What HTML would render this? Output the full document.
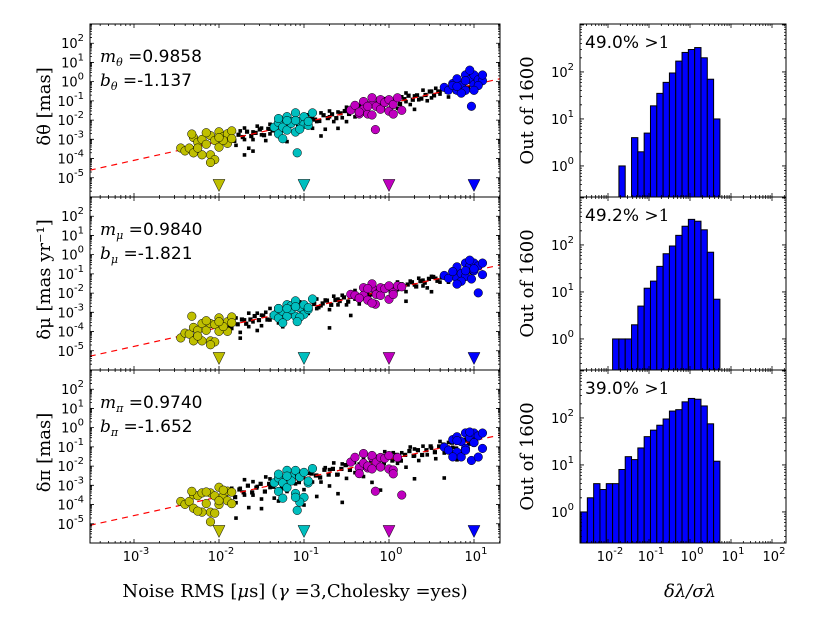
<!DOCTYPE html>
<html><head><meta charset="utf-8"><style>
html,body{margin:0;padding:0;background:#fff;}
svg{display:block;font-family:"DejaVu Sans","Liberation Sans",sans-serif;}
.ser{font-family:"DejaVu Serif","Liberation Serif",serif;}
</style></head><body>
<svg id="fig" width="817" height="617" viewBox="0 0 817 617" xmlns="http://www.w3.org/2000/svg"></svg>
<script>
// ---------- data ----------
const fitM = [0.9858, 0.9840, 0.9740];
const fitB = [-1.137, -1.821, -1.652];
const fitLabels = [["m_θ","0.9858","b_θ","-1.137"],["m_μ","0.9840","b_μ","-1.821"],["m_π","0.9740","b_π","-1.652"]];
const yLabels = ["δθ [mas]","δμ [mas yr⁻¹]","δπ [mas]"];
const noiseLevels = [-2,-1,0,1];
const noiseColors = ["#bfbf00","#00bfbf","#bf00bf","#0000ff"];
const triangleLogY = -5.4;
const xTickLabels = ["-3","-2","-1","0","1"];
const yTickExps = [2,1,0,-1,-2,-3,-4,-5];

// black points: log10 noise and offset (dex) from the fit line
const blackX1 = [-1.85,-1.8,-1.75,-1.7,-1.7,-1.65,-1.6,-1.6,-1.55,-1.5,-1.5,-1.45,-1.4,-1.4,-1.35,-1.3,-1.25,-1.2,-1.2,-1.15,-1.1,-1.05,-1.0,-0.95,-0.9,-0.9,-0.85,-0.8,-0.75,-0.7,-0.7,-0.65,-0.6,-0.55,-0.5,-0.5,-0.45,-0.4,-0.35,-0.3,-0.25,-0.2,-0.15,-0.1,-0.05,0.0,0.05,0.1,0.15,0.2,0.2,0.25,0.3,0.35,0.4,0.45,0.5,0.5,0.55,0.6,0.65,0.7,0.75,0.8,0.85,0.9,-1.6,-1.2,-0.6,0.3,-1.7,-0.8,-1.35,-0.35,0.6,-1.0];
const blackDY1 = [0.2,-0.4,0.3,-0.2,0.4,-0.7,0.1,-0.3,0.35,-0.15,0.2,-0.5,0.3,-0.2,0.05,-0.35,0.3,-0.1,-0.8,0.2,-0.3,0.1,-0.2,0.35,-0.4,0.15,-0.1,0.3,-0.6,0.0,0.3,-0.3,0.15,-0.2,0.3,-0.45,0.05,-0.3,0.25,-0.15,0.1,-0.4,0.2,-0.1,0.3,-0.25,0.1,-0.35,0.2,-0.1,0.35,-0.3,0.1,-0.15,0.3,-0.3,0.15,-0.2,0.25,-0.1,0.2,-0.35,0.1,-0.1,0.2,-0.2,-0.9,0.5,-0.7,-0.6,-1.0,-0.9,0.0,-0.05,0.05,0.1];
const blackX2 = [-1.85,-1.8,-1.75,-1.7,-1.65,-1.65,-1.6,-1.55,-1.5,-1.5,-1.45,-1.4,-1.4,-1.35,-1.3,-1.3,-1.25,-1.2,-1.15,-1.1,-1.1,-1.05,-1.0,-0.95,-0.9,-0.85,-0.85,-0.8,-0.75,-0.7,-0.65,-0.6,-0.6,-0.55,-0.5,-0.45,-0.4,-0.4,-0.35,-0.3,-0.25,-0.2,-0.2,-0.15,-0.1,-0.05,0.0,0.05,0.1,0.1,0.15,0.2,0.25,0.3,0.35,0.4,0.4,0.45,0.5,0.55,0.6,0.65,0.7,0.75,0.8,0.85,0.9,-1.75,-1.25,-0.7,0.2,-0.45,-1.55,0.5,-1.05,-0.25];
const blackDY2 = [-0.2,0.3,-0.5,0.1,0.4,-0.3,-0.1,0.3,-0.4,0.15,0.25,-0.2,0.4,-0.1,0.2,-0.45,0.05,0.3,-0.25,0.15,-0.5,0.3,0.0,-0.3,0.25,-0.15,0.35,-0.05,0.2,-0.35,0.3,-0.2,0.1,0.25,-0.3,0.2,-0.1,0.35,-0.4,0.15,-0.2,0.3,-0.05,0.1,-0.3,0.2,0.05,-0.25,0.3,-0.1,0.15,-0.3,0.2,-0.05,0.25,-0.2,0.1,-0.35,0.2,0.05,-0.2,0.15,-0.3,0.1,0.0,-0.1,0.15,-0.8,-0.7,-1.3,-0.8,-0.9,-0.6,-0.6,0.4,0.2];
const blackX3 = [-1.85,-1.8,-1.75,-1.7,-1.7,-1.65,-1.6,-1.6,-1.55,-1.5,-1.45,-1.4,-1.4,-1.35,-1.3,-1.25,-1.2,-1.2,-1.15,-1.1,-1.05,-1.0,-0.95,-0.9,-0.9,-0.85,-0.8,-0.75,-0.7,-0.7,-0.65,-0.6,-0.55,-0.5,-0.5,-0.45,-0.4,-0.35,-0.3,-0.3,-0.25,-0.2,-0.15,-0.1,-0.05,0.0,0.0,0.05,0.1,0.15,0.2,0.25,0.3,0.3,0.35,0.4,0.45,0.5,0.55,0.6,0.65,0.7,0.75,0.8,0.85,0.9,-1.8,-1.5,-1.0,-0.6,-0.2,0.3,-0.55,-0.85,0.65,0.8,-1.3,-0.1];
const blackDY3 = [0.3,-0.5,0.2,-0.2,0.6,-0.9,0.4,-0.3,0.1,-0.6,0.5,-0.1,0.35,-0.7,0.2,-0.3,0.45,-0.5,0.1,-0.2,0.4,-0.6,0.2,-0.3,0.5,0.0,-0.4,0.3,-0.7,0.15,0.45,-0.2,0.3,-0.5,0.2,0.4,-0.3,0.1,-0.6,0.35,0.0,-0.4,0.3,-0.2,0.45,-0.5,0.15,0.3,-0.3,0.2,-0.6,0.4,-0.1,0.25,-0.4,0.3,-0.2,0.1,-0.5,0.35,-0.3,0.2,-0.1,0.3,-0.4,0.15,-1.3,-1.1,-1.4,-1.2,-1.0,-1.3,-1.7,-1.1,-1.6,-0.8,-0.9,-1.5];
// additional black points concentrated in the band core
const coreX1 = [-1.88,-1.82,-1.77,-1.72,-1.67,-1.62,-1.57,-1.52,-1.47,-1.42,-1.37,-1.32,-1.27,-1.22,-1.17,-1.12,-1.07,-1.02,-0.97,-0.92,-0.87,-0.82,-0.77,-0.72,-0.67,-0.62,-0.57,-0.52,-0.47,-0.42,-0.37,-0.32,-0.27,-0.22,-0.17,-0.12,-0.07,-0.02,0.03,0.08,0.13,0.18,0.23,0.28,0.33,0.38,0.43,0.48,0.53,0.58,0.63,0.68,0.73,0.78,0.83,0.88,0.93,0.98];
const coreDY1 = [0.05,-0.15,0.12,-0.05,0.18,-0.1,0.02,0.15,-0.2,0.08,-0.05,0.12,-0.15,0.1,-0.02,0.15,-0.12,0.05,-0.18,0.1,0.02,-0.1,0.15,-0.05,0.1,-0.15,0.05,0.12,-0.08,0.18,-0.1,0.05,-0.2,0.1,0.0,0.15,-0.12,0.08,-0.05,0.12,-0.15,0.05,0.18,-0.08,0.1,-0.12,0.02,0.15,-0.1,0.05,0.12,-0.05,0.1,-0.15,0.05,0.12,-0.08,0.1];
const coreX2 = [-1.87,-1.83,-1.78,-1.73,-1.68,-1.63,-1.58,-1.53,-1.48,-1.43,-1.38,-1.33,-1.28,-1.23,-1.18,-1.13,-1.08,-1.03,-0.98,-0.93,-0.88,-0.83,-0.78,-0.73,-0.68,-0.63,-0.58,-0.53,-0.48,-0.43,-0.38,-0.33,-0.28,-0.23,-0.18,-0.13,-0.08,-0.03,0.02,0.07,0.12,0.17,0.22,0.27,0.32,0.37,0.42,0.47,0.52,0.57,0.62,0.67,0.72,0.77,0.82,0.87,0.92,0.97];
const coreDY2 = [-0.1,0.12,-0.05,0.15,-0.12,0.05,0.18,-0.08,0.1,-0.15,0.02,0.12,-0.1,0.05,0.15,-0.05,0.1,-0.15,0.08,0.0,0.12,-0.1,0.05,0.15,-0.12,0.08,-0.02,0.12,-0.15,0.05,0.1,-0.08,0.15,-0.05,0.12,-0.12,0.05,0.1,-0.1,0.02,0.15,-0.08,0.05,0.12,-0.15,0.08,-0.05,0.1,0.15,-0.1,0.02,0.12,-0.08,0.05,-0.12,0.1,0.05,-0.05];
const coreX3 = [-1.86,-1.81,-1.76,-1.71,-1.66,-1.61,-1.56,-1.51,-1.46,-1.41,-1.36,-1.31,-1.26,-1.21,-1.16,-1.11,-1.06,-1.01,-0.96,-0.91,-0.86,-0.81,-0.76,-0.71,-0.66,-0.61,-0.56,-0.51,-0.46,-0.41,-0.36,-0.31,-0.26,-0.21,-0.16,-0.11,-0.06,-0.01,0.04,0.09,0.14,0.19,0.24,0.29,0.34,0.39,0.44,0.49,0.54,0.59,0.64,0.69,0.74,0.79,0.84,0.89,0.94,0.99];
const coreDY3 = [0.1,-0.2,0.15,-0.05,0.25,-0.15,0.05,0.2,-0.25,0.1,-0.1,0.2,-0.2,0.15,-0.05,0.2,-0.15,0.05,-0.25,0.15,0.0,-0.15,0.2,-0.1,0.15,-0.2,0.05,0.2,-0.1,0.25,-0.15,0.1,-0.25,0.15,0.0,0.2,-0.15,0.1,-0.1,0.15,-0.2,0.05,0.2,-0.1,0.15,-0.15,0.05,0.2,-0.15,0.1,0.15,-0.05,0.15,-0.2,0.1,0.15,-0.1,0.15];

// colored clusters: [yellow, cyan, magenta, blue]
const clX = [
 [-2.45,-2.4,-2.35,-2.3,-2.3,-2.25,-2.2,-2.2,-2.15,-2.1,-2.1,-2.05,-2.0,-2.0,-1.95,-1.9,-1.9,-1.85,-2.25,-2.05,-2.15,-1.95,-2.32,-2.0,-2.1,-1.85],
 [-1.35,-1.3,-1.3,-1.25,-1.2,-1.2,-1.15,-1.1,-1.1,-1.05,-1.0,-1.0,-0.95,-0.9,-1.25,-1.15,-1.05,-1.2,-1.08,-0.95,-1.3,-1.1],
 [-0.45,-0.4,-0.35,-0.3,-0.3,-0.25,-0.2,-0.2,-0.15,-0.1,-0.1,-0.05,0.0,0.0,0.05,0.1,-0.35,-0.25,-0.16,0.05,-0.2,0.15],
 [0.65,0.7,0.75,0.8,0.8,0.85,0.9,0.9,0.95,1.0,1.0,1.05,1.1,1.1,0.85,0.95,0.97,1.05,0.75,0.9,0.8,1.0]
];
const clDY1 = [
 [0.1,-0.1,0.0,0.5,-0.3,0.2,-0.5,0.3,0.0,0.4,-0.6,0.1,-0.3,0.5,0.2,0.3,-0.2,0.4,-0.1,-0.9,0.6,0.0,0.7,0.2,-1.0,0.0],
 [0.1,-0.3,0.3,0.0,0.5,-0.2,0.2,0.6,-0.4,0.1,0.3,-0.1,-0.2,0.4,-0.6,0.1,-0.3,0.3,-1.5,0.0,0.5,0.2],
 [0.1,0.3,-0.2,0.4,0.0,-0.3,0.2,0.5,0.0,-0.2,0.3,0.1,-0.4,0.2,-0.1,0.2,-0.1,0.1,-1.2,-0.6,-0.4,-0.5],
 [0.2,0.0,0.3,-0.1,0.5,0.1,0.6,-0.2,0.3,0.0,0.5,0.2,0.1,0.4,-0.3,0.8,-1.1,-0.1,0.2,0.3,0.1,-0.3]
];
const clDY2 = [
 [-0.1,0.1,0.0,-0.4,0.3,0.1,-0.5,0.4,0.0,0.3,-0.6,0.2,-0.2,0.5,0.1,0.2,-0.3,0.4,-0.2,-0.7,0.5,0.0,0.9,0.3,-0.8,0.1],
 [0.0,-0.2,0.3,0.1,0.4,-0.2,0.3,0.5,-0.3,0.1,0.2,-0.3,-0.1,0.4,-0.5,0.1,-0.4,0.2,-0.6,0.0,0.3,0.2],
 [0.2,0.1,-0.1,0.4,0.0,-0.3,0.3,0.5,-0.1,-0.2,0.2,0.1,-0.5,0.2,-0.2,0.1,-0.1,0.3,-0.6,-0.3,-0.5,0.0],
 [0.1,-0.1,0.2,-0.2,0.4,0.0,0.5,-0.2,0.3,0.0,0.4,0.2,-0.3,0.3,-0.4,0.6,-0.4,-1.2,0.2,0.1,-0.5,0.1]
];
const clDY3 = [
 [0.2,0.0,0.1,0.4,-0.3,0.3,-0.6,0.4,-0.2,0.3,-0.7,0.1,-0.4,0.5,0.0,0.2,-0.3,0.1,-0.5,-0.8,0.4,0.3,0.6,-0.2,-1.2,-0.5],
 [0.1,-0.4,0.3,0.0,0.6,-0.3,0.2,0.5,-0.7,0.1,0.3,-1.0,-0.3,0.4,-0.8,0.0,-1.2,0.3,-1.6,-0.2,0.5,-0.9],
 [0.3,0.5,-0.1,0.6,0.1,-0.2,0.3,0.4,0.0,-0.3,0.2,0.1,-0.5,0.2,-0.6,0.0,-0.4,-0.1,-1.5,-0.8,-0.3,-2.0],
 [0.0,-0.2,0.3,-0.4,0.4,0.1,0.5,-0.3,0.2,-0.1,0.4,0.2,-0.5,0.3,-0.7,0.5,-1.0,-0.9,-0.6,-0.4,0.2,-0.1]
];
const blackX = [blackX1, blackX2, blackX3];
const blackDY = [blackDY1, blackDY2, blackDY3];
const coreX = [coreX1, coreX2, coreX3];
const coreDY = [coreDY1, coreDY2, coreDY3];
const clDY = [clDY1, clDY2, clDY3];

// histograms (counts per log bin)
const histCounts1 = [1,0,4,2,5,19,35,60,95,170,260,300,330,200,70,10];
const histCounts2 = [1,1,1,2,5,12,17,35,65,95,160,250,350,320,210,70,7];
const histCounts3 = [1,2,4,3,4,4,8,15,13,23,40,55,70,95,140,150,220,260,250,180,75,12];
const histLabels = ["49.0%","49.2%","39.0%"];
const histTopEdge = 0.73;
const histBinWidth = 0.154;
const hxTickExps = [-2,-1,0,1,2];
const hyTickExps = [2,1,0];

// ---------- geometry ----------
const NS = "http://www.w3.org/2000/svg";
const svg = document.getElementById("fig");
const tops = [24,197,370], PH = 173;
const LX0 = 90, LX1 = 500, RX0 = 580, RX1 = 786;
const lx = v => 219 + (v + 2) * 85;
const ly = (p, v) => tops[p] + (3 - v) * 19.22;
const hx = v => 690 + v * 41;
const hy = (p, v) => tops[p] + (3.02 - v) * 47;

function mk(tag, attrs, parent) {
  const e = document.createElementNS(NS, tag);
  for (const k in attrs) e.setAttribute(k, attrs[k]);
  (parent || svg).appendChild(e);
  return e;
}
function sup(t, base, exp) {
  const b = document.createElementNS(NS, "tspan"); b.textContent = base; t.appendChild(b);
  const s = document.createElementNS(NS, "tspan"); s.setAttribute("dy", "-7"); s.setAttribute("font-size", "10"); s.textContent = exp; t.appendChild(s);
}

for (let p = 0; p < 3; p++) {
  const top = tops[p], bot = top + PH;
  const g = mk("g", {});
  
  
  const clipId = "c" + p;
  const cp = mk("clipPath", {id: clipId}, g);
  mk("rect", {x: LX0, y: top, width: LX1 - LX0, height: PH}, cp);
  const pg = mk("g", {"clip-path": "url(#" + clipId + ")"}, g);
  // black points
  const addBlack = (xs, ds, s) => {
    for (let i = 0; i < xs.length; i++) {
      const yv = fitM[p] * xs[i] + fitB[p] + ds[i];
      const r = mk("rect", {x: lx(xs[i]) - s / 2, y: ly(p, yv) - s / 2, width: s, height: s, fill: "#000"}, pg);
      
      
    }
  };
  addBlack(blackX[p], blackDY[p], 3.6);
  addBlack(coreX[p], coreDY[p], 4.2);
  // fit line
  const fl = mk("line", {x1: lx(-3.52), y1: ly(p, fitM[p] * -3.52 + fitB[p]), x2: lx(1.31), y2: ly(p, fitM[p] * 1.31 + fitB[p]), stroke: "#ff0000", "stroke-width": 1.2, "stroke-dasharray": "6,5"}, pg);
  
  
  // clusters
  for (let c = 0; c < 4; c++) {
    const xs = clX[c], ds = clDY[p][c];
    for (let i = 0; i < xs.length; i++) {
      const yv = fitM[p] * xs[i] + fitB[p] + ds[i];
      const ci = mk("circle", {cx: lx(xs[i]), cy: ly(p, yv), r: 4.3, fill: noiseColors[c], stroke: "#000", "stroke-width": 0.5}, pg);
      
      
    }
    const tx = lx(noiseLevels[c]), ty = ly(p, triangleLogY);
    const tri = mk("polygon", {points: (tx - 6) + "," + (ty - 6) + " " + (tx + 6) + "," + (ty - 6) + " " + tx + "," + (ty + 6), fill: noiseColors[c], stroke: "#000", "stroke-width": 0.5}, pg);
    
    
  }
  let tk = "";
  for (let d = -4; d <= 1; d++) for (let m = 1; m <= 9; m++) {
    const v = d + Math.log10(m); const X = lx(v);
    if (X < LX0 || X > LX1) continue;
    const L = m === 1 ? 4 : 2;
    tk += `M${X},${bot}v${-L}M${X},${top}v${L}`;
  }
  for (let d = -6; d <= 3; d++) for (let m = 1; m <= 9; m++) {
    const v = d + Math.log10(m); const Y = ly(p, v);
    if (Y < top || Y > bot) continue;
    const L = m === 1 ? 4 : 2;
    tk += `M${LX0},${Y}h${L}M${LX1},${Y}h${-L}`;
  }
  mk("path", {d: tk, stroke: "#000", "stroke-width": 0.8, fill: "none"}, g);
  const fr = mk("rect", {x: LX0, y: top, width: LX1 - LX0, height: PH, fill: "none", stroke: "#000", "stroke-width": 1}, g);
  
  
  yTickExps.forEach(e => {
    const t = mk("text", {x: 84, y: ly(p, e) + 5, "text-anchor": "end", "font-size": 13}, g);
    
    
    sup(t, "10", String(e));
  });
  const a1 = mk("text", {x: 100, y: top + 38, "font-size": 17}, g);
  
  
  a1.innerHTML = '<tspan class="ser" font-style="italic">m</tspan><tspan class="ser" font-style="italic" font-size="11" dy="4">' + fitLabels[p][0].slice(2) + '</tspan><tspan dy="-4" class="ser"> =</tspan>' + fitLabels[p][1];
  const a2 = mk("text", {x: 100, y: top + 62, "font-size": 17}, g);
  
  
  a2.innerHTML = '<tspan class="ser" font-style="italic">b</tspan><tspan class="ser" font-style="italic" font-size="11" dy="4">' + fitLabels[p][2].slice(2) + '</tspan><tspan dy="-4" class="ser"> =</tspan>' + fitLabels[p][3];
  const yl = mk("text", {x: 0, y: 0, "font-size": 18, "text-anchor": "middle", class: "ser", transform: `translate(50,${top + PH / 2 - 4}) rotate(-90)`}, g);
  
  
  yl.textContent = yLabels[p];

  const h = mk("g", {});
  
  
  const hcId = "h" + p;
  const hcp = mk("clipPath", {id: hcId}, h);
  mk("rect", {x: RX0, y: top, width: RX1 - RX0, height: PH}, hcp);
  const hg = mk("g", {"clip-path": "url(#" + hcId + ")"}, h);
  const counts = [histCounts1, histCounts2, histCounts3][p];
  const n = counts.length;
  for (let i = 0; i < n; i++) {
    if (counts[i] <= 0) continue;
    const e0 = histTopEdge - (n - i) * histBinWidth, e1 = e0 + histBinWidth;
    const yT = hy(p, Math.log10(counts[i]));
    const b = mk("rect", {x: hx(e0), y: yT, width: hx(e1) - hx(e0), height: bot + 5 - yT, fill: "#0000ff", stroke: "#000", "stroke-width": 1}, hg);
    
    
  }
  let ht = "";
  for (let d = -3; d <= 2; d++) for (let m = 1; m <= 9; m++) {
    const v = d + Math.log10(m); const X = hx(v);
    if (X < RX0 || X > RX1) continue;
    const L = m === 1 ? 4 : 2;
    ht += `M${X},${bot}v${-L}M${X},${top}v${L}`;
  }
  for (let d = -1; d <= 3; d++) for (let m = 1; m <= 9; m++) {
    const v = d + Math.log10(m); const Y = hy(p, v);
    if (Y < top || Y > bot) continue;
    const L = m === 1 ? 4 : 2;
    ht += `M${RX0},${Y}h${L}M${RX1},${Y}h${-L}`;
  }
  mk("path", {d: ht, stroke: "#000", "stroke-width": 0.8, fill: "none"}, h);
  const hf = mk("rect", {x: RX0, y: top, width: RX1 - RX0, height: PH, fill: "none", stroke: "#000", "stroke-width": 1}, h);
  
  
  hyTickExps.forEach(e => {
    const t = mk("text", {x: 574, y: hy(p, e) + 5, "text-anchor": "end", "font-size": 13}, h);
    
    
    sup(t, "10", String(e));
  });
  const ht2 = mk("text", {x: 585, y: top + 24, "font-size": 17}, h);
  
  
  ht2.innerHTML = histLabels[p] + '<tspan class="ser"> &gt;1</tspan>';
  const hl = mk("text", {x: 0, y: 0, "font-size": 18, "text-anchor": "middle", class: "ser", transform: `translate(533,${top + PH / 2}) rotate(-90)`}, h);
  
  
  hl.textContent = "Out of 1600";
}

xTickLabels.forEach(s => {
  const t = mk("text", {x: lx(+s) + 2, y: 561, "text-anchor": "middle", "font-size": 13});
  
  
  sup(t, "10", s);
});
hxTickExps.forEach(e => {
  const t = mk("text", {x: hx(e) + 2, y: 561, "text-anchor": "middle", "font-size": 13});
  
  
  sup(t, "10", String(e));
});
const xt = mk("text", {x: 295, y: 597, "text-anchor": "middle", "font-size": 18, class: "ser"});


xt.innerHTML = 'Noise RMS [<tspan font-style="italic">μ</tspan>s] (<tspan font-style="italic">γ</tspan> =3,Cholesky =yes)';
const hxt = mk("text", {x: 690, y: 597, "text-anchor": "middle", "font-size": 18, class: "ser", "font-style": "italic"});


hxt.textContent = "δλ/σλ";
</script>
</body></html>
